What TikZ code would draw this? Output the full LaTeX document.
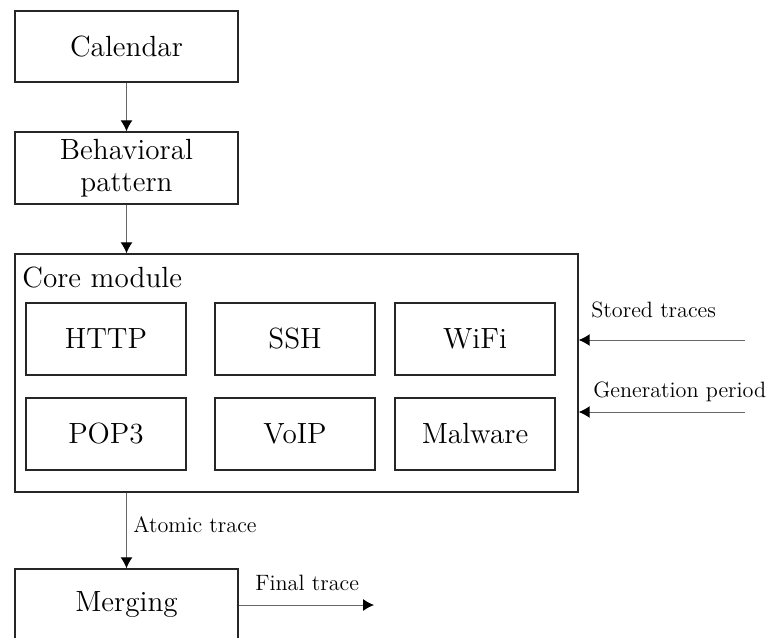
\documentclass[tikz,border=0pt]{standalone}
\usetikzlibrary{arrows.meta,calc}
\begin{document}
\begin{tikzpicture}[x=0.5pt,y=-0.5pt,
  box/.style={draw=black!85,line width=0.7pt,inner sep=0pt,align=center,
    minimum width=111.5pt,minimum height=36pt,font=\fontsize{14.6}{16}\selectfont},
  subbox/.style={box,minimum width=80pt},
  link/.style={draw=black!60,line width=0.5pt,-{Latex[length=5.5pt,width=6pt,color=black]}},
  lbl/.style={inner sep=0pt,anchor=base west,font=\fontsize{11.1}{13}\selectfont}]
\useasboundingbox (0,0) rectangle (770,637);

% vertical chain of stages
\node[box,minimum height=35.5pt] (cal) at (126.5,46.5) {Calendar};
\node[box] (beh) at (126.5,168) {Behavioral\\pattern};
\node[box,minimum width=281.5pt,minimum height=119pt] (core) at (296.5,373) {};
\node[inner sep=0pt,anchor=base west,font=\fontsize{14.6}{16}\selectfont] (coretitle) at (22,287) {Core module};

% protocol generators inside the core module
\node[subbox] (http) at (106,339) {HTTP};
\node[subbox] (ssh) at (295,339) {SSH};
\node[subbox] (wifi) at (475,339) {WiFi};
\node[subbox] (pop) at (106,434) {POP3};
\node[subbox] (voip) at (295,434) {VoIP};
\node[subbox] (mal) at (475,434) {Malware};

\node[box] (merge) at (126.5,605) {Merging};

% external inputs and output
\coordinate (stin) at (745,340);
\coordinate (genin) at (745,412);
\coordinate (finout) at (374,605);

\draw[link] (cal) -- (beh);
\draw[link] (beh) -- (beh |- core.north);
\draw[link] (stin) -- (stin -| core.east);
\draw[link] (genin) -- (genin -| core.east);
\draw[link] (merge.north |- core.south) -- (merge);
\draw[link] (merge) -- (finout);

% connector labels
\node[lbl] (stlbl) at (591,317) {Stored traces};
\node[lbl] (genlbl) at (593,397) {Generation period};
\node[lbl] (atlbl) at (133,532) {Atomic trace};
\node[lbl] (finlbl) at (255,590) {Final trace};
\end{tikzpicture}
\end{document}
